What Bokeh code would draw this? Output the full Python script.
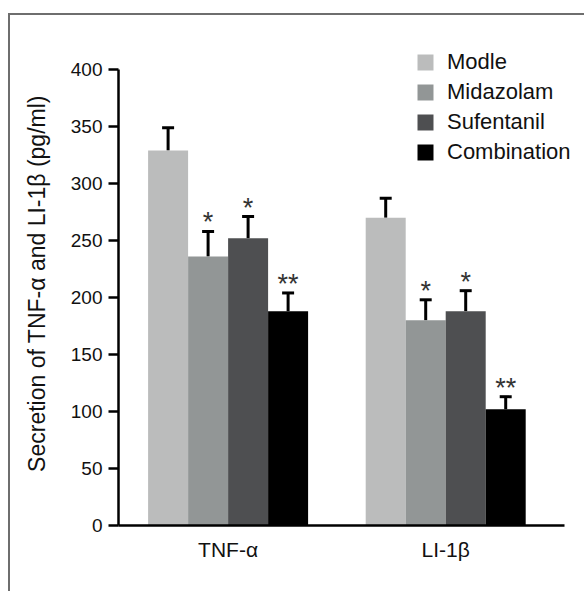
from bokeh.plotting import figure
from bokeh.models import Range1d, FixedTicker, Whisker, TeeHead, ColumnDataSource
from bokeh.core.properties import value
from bokeh.embed import file_html
from bokeh.resources import INLINE

# ---- data ----
groups = ["TNF-α", "LI-1β"]
series = ["Modle", "Midazolam", "Sufentanil", "Combination"]
colors = ["#bbbcbc", "#929696", "#4e4f51", "#000000"]
means = {
    "Modle":       [329, 270],
    "Midazolam":   [236, 180],
    "Sufentanil":  [252, 188],
    "Combination": [188, 102],
}
errors = {
    "Modle":       [20, 17],
    "Midazolam":   [22, 18],
    "Sufentanil":  [19, 18],
    "Combination": [16, 11],
}
stars = {
    "Modle":       ["", ""],
    "Midazolam":   ["*", "*"],
    "Sufentanil":  ["*", "*"],
    "Combination": ["**", "**"],
}
y_ticks = [0, 50, 100, 150, 200, 250, 300, 350, 400]
y_label = "Secretion of TNF-α and LI-1β (pg/ml)"

# ---- layout constants ----
FONT = "Liberation Sans"
left_pad, gap, bar_w = 0.74, 1.44, 1.0
n = len(series)
group_centers = [left_pad + n / 2 + g * (n + gap) for g in range(len(groups))]
x_axis_end = left_pad + len(groups) * n + gap + 0.98

W, H = 576, 578
p = figure(width=W, height=H, output_backend="svg", toolbar_location=None,
           x_range=Range1d(0, 11.575), y_range=Range1d(0, 424.6),
           min_border_left=108, min_border_right=5, min_border_top=26,
           min_border_bottom=68)
p.styles = {"border-top": "2px solid #6e6e6e", "border-left": "2px solid #6e6e6e",
            "margin-top": "13px", "margin-left": "8px"}
p.outline_line_color = None
p.xgrid.visible = False
p.ygrid.visible = False

for i, s in enumerate(series):
    xs = [c + (i - (n - 1) / 2) * bar_w for c in group_centers]
    tops = means[s]
    ups = [m + e for m, e in zip(tops, errors[s])]
    src = ColumnDataSource(dict(x=xs, top=tops, up=ups, st=stars[s]))
    p.vbar(x="x", top="top", width=bar_w, bottom=0, source=src,
           fill_color=colors[i], line_color=None, legend_label=s)
    w = Whisker(base="x", lower="top", upper="up", source=src,
                line_color="black", line_width=3,
                upper_head=TeeHead(size=12, line_width=3, line_color="black"),
                lower_head=None)
    p.add_layout(w)
    p.text(x="x", y="up", text="st", source=src, text_align="center",
           text_baseline="alphabetic", y_offset=-9,
           text_font=value(FONT), text_font_size="27px", text_color="#333333")

# y axis
ya = p.yaxis[0]
ya.ticker = FixedTicker(ticks=y_ticks)
ya.bounds = (0, 400)
ya.axis_line_width = 2.5
ya.major_tick_line_width = 2.5
ya.major_tick_out = 10
ya.major_tick_in = 0
ya.minor_tick_line_color = None
ya.major_label_standoff = 6
ya.major_label_text_font = FONT
ya.major_label_text_font_size = "19px"
ya.major_label_text_color = "#111111"
ya.axis_label = y_label
ya.axis_label_text_font = FONT
ya.axis_label_text_font_size = "23px"
ya.axis_label_text_font_style = "normal"
ya.axis_label_text_color = "#111111"
ya.axis_label_standoff = 18

# x axis
xa = p.xaxis[0]
xa.ticker = FixedTicker(ticks=group_centers)
xa.major_label_overrides = {c: g for c, g in zip(group_centers, groups)}
xa.bounds = (0, x_axis_end)
xa.axis_line_width = 2.5
xa.major_tick_line_color = None
xa.major_tick_out = 0
xa.minor_tick_line_color = None
xa.major_label_standoff = 12
xa.major_label_text_font = FONT
xa.major_label_text_font_size = "21px"
xa.major_label_text_color = "#111111"

# legend
lg = p.legend[0]
lg.location = (297, 360)
lg.margin = 0
lg.padding = 0
lg.border_line_color = None
lg.background_fill_alpha = 0
lg.glyph_width = 20
lg.glyph_height = 20
lg.label_standoff = 12
lg.spacing = 4
lg.label_text_font = FONT
lg.label_text_font_size = "22px"
lg.label_text_color = "#111111"

open("out.html", "w").write(file_html(p, INLINE))
